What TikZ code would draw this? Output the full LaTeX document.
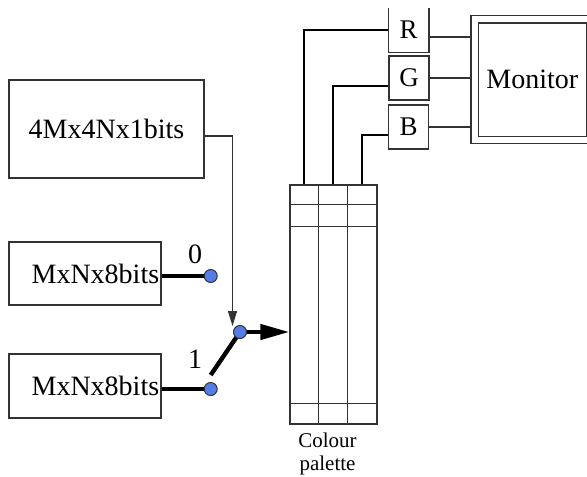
\documentclass[tikz,border=0pt]{standalone}
\usepackage{fontspec}
\setmainfont{Liberation Serif}
\usetikzlibrary{arrows.meta,positioning,calc,backgrounds}
\definecolor{pontkek}{RGB}{85,125,230}
\tikzset{
  dob/.style={draw=black!80,line width=0.6pt,inner sep=0pt},
  pont/.style={circle,draw=black!80,fill=pontkek,line width=0.5pt,minimum size=6.5pt,inner sep=0pt},
  vastag/.style={line width=2.2pt},
  kozep/.style={line width=1.3pt},
  vekony/.style={line width=0.6pt,draw=black!80},
  nagy/.style={font=\fontsize{14}{16}\selectfont},
  betu/.style={font=\fontsize{13.5}{15}\selectfont,minimum width=20pt,minimum height=22pt},
}

\begin{document}
\begin{tikzpicture}[x=0.5pt,y=-0.5pt,nagy]
  \useasboundingbox (0,0) rectangle (587,476);
  % memories
  \node[dob,minimum width=97.5pt,minimum height=49pt] (mem4) at (106.5,129) {4Mx4Nx1bits};
  \node[dob,minimum width=76pt,minimum height=31.5pt] (memA) at (85,273.5) {};
  \node[anchor=east,inner sep=1pt] (txtA) at (memA.east) {MxNx8bits};
  \node[dob,minimum width=76pt,minimum height=32pt] (memB) at (85,386) {};
  \node[anchor=east,inner sep=1pt] (txtB) at (memB.east) {MxNx8bits};
  % switch
  \node[pont] (dot0) at (210.7,276) {};
  \node[pont] (dot1) at (210.7,389) {};
  \node[pont] (piv) at (240,332) {};
  \node (lab0) at (195,254) {0};
  \node (lab1) at (195,359) {1};
  \coordinate (tip) at ($(piv.center)+(-7.5,-6)$);
  % palette
  \node[dob,minimum width=43.5pt,minimum height=119.5pt] (pal) at (333.5,304.5) {};
  \foreach \dx in {29,58}
    \draw[vekony] ($(pal.north west)+(\dx,0)$) -- ($(pal.south west)+(\dx,0)$);
  \foreach \dy in {20,42}
    \draw[vekony] ($(pal.north west)+(0,\dy)$) -- ($(pal.north east)+(0,\dy)$);
  \draw[vekony] ($(pal.south west)+(0,-21)$) -- ($(pal.south east)+(0,-21)$);
  \node[font=\fontsize{10.5}{11.5}\selectfont,align=center,anchor=north,inner sep=0pt]
    (cap) at ([xshift=-3pt,yshift=-4pt]pal.south) {Colour\\palette};
  % DAC boxes and monitor
  \node[betu,inner sep=0pt] (R) at (408.5,30) {R};
  \draw[vekony] (R.north west) |- (R.south east) -- (R.north east);
  \node[dob,betu] (G) at (409,78) {G};
  \node[dob,betu] (B) at (408.5,127) {B};
  \node[draw=black!80,line width=0.6pt,double,double distance=3pt,
    minimum width=57.75pt,minimum height=60.25pt,inner sep=0pt] (mon) at (532.25,79.75) {Monitor};
  \coordinate (rO) at ([yshift=-3.5pt]R.east);
  \coordinate (gI) at ([yshift=-4pt]G.west);
  \coordinate (bI) at ([yshift=-4pt]B.west);
  \begin{scope}[on background layer]
    \draw[vastag] (memA.east |- dot0) -- (dot0.center);
    \draw[vastag] (memB.east |- dot1) -- (dot1.center);
    \draw[vastag] ([yshift=7pt]dot1.center) -- (piv.center);
    \draw[vastag,-{Triangle[length=14.5pt,width=7.5pt]}] (piv.center) -- (piv -| pal.west);
    \draw[vekony,-{Triangle[length=7.5pt,width=4.5pt]}] ([yshift=-3.5pt]mem4.east) -| (tip);
    \draw[kozep] (R.west) -| ($(pal.north west)+(14.5,0)$);
    \draw[kozep] (gI) -| ($(pal.north west)+(43.5,0)$);
    \draw[kozep] (bI) -| ($(pal.north west)+(72.5,0)$);
    \draw[vekony] (rO) -- (rO -| mon.west);
    \draw[vekony] (G.east) -- (G.east -| mon.west);
    \draw[vekony] (B.east) -- (B.east -| mon.west);
  \end{scope}
\end{tikzpicture}
\end{document}
